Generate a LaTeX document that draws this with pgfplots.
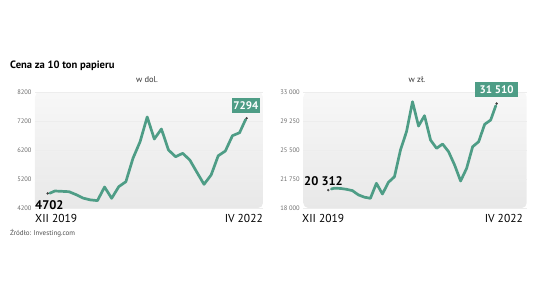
\documentclass[border=0pt]{standalone}
\usepackage{pgfplots}
\pgfplotsset{compat=1.18}
\usepackage{fontspec}
\setmainfont{PT Sans}
\definecolor{teal1}{HTML}{4E9D86}
\definecolor{tickgray}{HTML}{6A6A6A}
\begin{document}
\begin{tikzpicture}[x=1pt,y=1pt]
\path (0,0) rectangle (536,293);
\pgfplotsset{
 panel/.style={scale only axis, anchor=south west, height=116pt,
  axis line style={draw=none}, tick style={draw=none}, major tick length=0pt,
  xtick=\empty, ymajorgrids, grid style={black!7, line width=0.5pt},
  axis background/.style={top color=black!3, bottom color=black!9, draw=none, rounded corners=5pt},
  yticklabel style={font=\fontsize{6.5}{7}\selectfont, text=tickgray},
  /pgf/number format/assume math mode=true,
  scaled y ticks=false, clip=false,
 },
 ser/.style={teal1, line width=2.7pt, line join=round, line cap=round},
 dot/.style={only marks, mark=*, mark size=1pt, black!75},
}
\begin{axis}[panel, at={(35pt,85pt)}, width=228pt, xmin=-1.79, xmax=30.3,
  ymin=4200, ymax=8200, ytick={4200,5200,6200,7200,8200},
  yticklabel style={/pgf/number format/1000 sep={}}]
\addplot[ser] coordinates {
(0.3,4710) (1,4786) (2,4775) (3,4762) (4,4660) (5,4540) (6,4480) (7,4455)
(8,4924) (9,4534) (10,4935) (11,5107) (12,5914) (13,6486) (14,7340)
(15,6579) (16,6924) (17,6200) (18,5969) (19,6086) (20,5855) (21,5431)
(22,5017) (23,5338) (24,6003) (25,6165) (26,6693) (27,6796) (27.85,7250)};
\addplot[dot] coordinates {(0,4702) (28,7294)};
\end{axis}
\begin{axis}[panel, at={(303.3pt,85pt)}, width=223.4pt, xmin=-4.16, xmax=32.99,
  ymin=18000, ymax=33000, ytick={18000,21750,25500,29250,33000},
  yticklabel style={/pgf/number format/.cd, 1000 sep={\ }, fixed}]
\addplot[ser] coordinates {
(0.5,20460) (1,20560) (2,20530) (3,20420) (4,20250) (5,19700) (6,19400) (7,19254)
(8,21194) (9,19810) (10,21323) (11,22047) (12,25500) (13,27866) (14,31746)
(15,28600) (16,29935) (17,26790) (18,25720) (19,26275) (20,25280) (21,23560)
(22,21490) (23,23133) (24,25926) (25,26573) (26,28822) (27,29378) (27.85,31230)};
\addplot[dot] coordinates {(0,20312) (28,31510)};
\end{axis}
% texts
\node[anchor=base west, inner sep=0, font=\bfseries\fontsize{10.6}{12}\selectfont] at (10,225) {Cena za 10 ton papieru};
\node[anchor=base, inner sep=0, font=\fontsize{8.5}{10}\selectfont, text=black!80] at (147,211) {w dol.};
\node[anchor=base, inner sep=0, font=\fontsize{8.5}{10}\selectfont, text=black!80] at (417,211) {w zł.};
\node[anchor=base west, inner sep=0, font=\bfseries\fontsize{12.5}{14}\selectfont] at (35,84) {4702};
\node[anchor=base west, inner sep=0, font=\bfseries\fontsize{12.5}{14}\selectfont] at (304,108) {20 312};
\node[fill=teal1, text=white, font=\bfseries\fontsize{11}{13}\selectfont, minimum width=28.3pt, minimum height=15pt, inner sep=1pt] at (245.9,187.5) {7294};
\node[fill=teal1, text=white, font=\bfseries\fontsize{11}{13}\selectfont, minimum width=43.3pt, minimum height=15pt, inner sep=1pt] at (496.7,203.8) {31 510};
\node[anchor=base west, inner sep=0, font=\fontsize{11.5}{14}\selectfont] at (35,71) {XII 2019};
\node[anchor=base east, inner sep=0, font=\fontsize{11.5}{14}\selectfont] at (263,71) {IV 2022};
\node[anchor=base west, inner sep=0, font=\fontsize{11.5}{14}\selectfont] at (302,71) {XII 2019};
\node[anchor=base east, inner sep=0, font=\fontsize{11.5}{14}\selectfont] at (523,71) {IV 2022};
\node[anchor=base west, inner sep=0, font=\fontsize{7}{8}\selectfont, text=black!70] at (10,58) {Źródło: Investing.com};
\end{tikzpicture}
\end{document}
